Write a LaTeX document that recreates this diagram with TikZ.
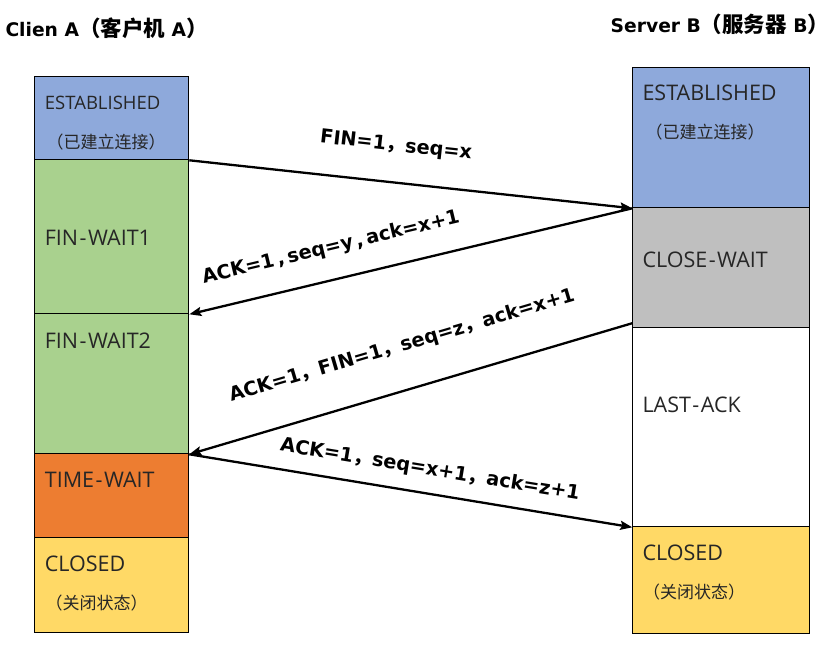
\documentclass[tikz,border=0pt]{standalone}
\usepackage{fontspec}
\setmainfont{Open Sans}
\newfontfamily\cjk{Noto Sans CJK SC}
\newfontfamily\wide{DejaVu Sans}
\usetikzlibrary{arrows.meta}
\definecolor{cblue}{HTML}{8EA9DB}
\definecolor{cgreen}{HTML}{A9D18E}
\definecolor{cgray}{HTML}{BFBFBF}
\definecolor{corange}{HTML}{ED7D31}
\definecolor{cyellow}{HTML}{FFD966}
\tikzset{
  box/.style={draw=black, line width=1pt, inner sep=0pt, anchor=north west},
  state/.style={anchor=west, inner sep=0pt, font=\fontsize{21.5}{23}\selectfont, text=black!85},
  smallstate/.style={anchor=west, inner sep=0pt, font=\fontsize{18.5}{20}\selectfont, text=black!85},
  note/.style={anchor=west, inner sep=0pt, font=\cjk\fontsize{17}{19}\selectfont, text=black!85},
  title/.style={anchor=west, inner sep=0pt, font=\wide\bfseries\fontsize{18.7}{21}\selectfont},
  msg/.style={inner sep=0pt, font=\wide\bfseries\fontsize{19.3}{21}\selectfont},
  arr/.style={line width=2.3pt, -{Stealth[length=12pt,width=9pt,inset=2pt]}},
}
\newcommand{\hy}{\kern1.5pt-\kern1.5pt}
\newcommand{\tc}[1]{{\cjk\fontsize{21.5}{24}\selectfont #1}}
\begin{document}
\begin{tikzpicture}[x=1pt,y=-1pt]
\useasboundingbox (0,0) rectangle (829,652);
% left column
\node[box, fill=cblue, minimum width=154pt, minimum height=83pt] (aest) at (34.3,76.3) {};
\node[box, fill=cgreen, minimum width=154pt, minimum height=154pt] (afw1) at (34.3,159.3) {};
\node[box, fill=cgreen, minimum width=154pt, minimum height=140pt] (afw2) at (34.3,313.3) {};
\node[box, fill=corange, minimum width=154pt, minimum height=84pt] (atw) at (34.3,453.3) {};
\node[box, fill=cyellow, minimum width=154pt, minimum height=95pt] (acl) at (34.3,537.3) {};
% right column
\node[box, fill=cblue, minimum width=177pt, minimum height=140.6pt] (best) at (632.3,66.7) {};
\node[box, fill=cgray, minimum width=177pt, minimum height=119.4pt] (bcw) at (632.3,207.3) {};
\node[box, fill=white, minimum width=177pt, minimum height=199.6pt] (blast) at (632.3,326.7) {};
\node[box, fill=cyellow, minimum width=177pt, minimum height=106.4pt] (bcl) at (632.3,526.3) {};
% titles
\node[title] (ta) at (5.3,28) {Clien A\tc{（客户机} A\tc{）}};
\node[title] (tb) at (610.5,24.3) {Server B\tc{（服务器} B\tc{）}};
% left labels
\node[smallstate] (laest) at (44.7,103) {ESTABLISHED};
\node[note] (laestn) at (46.3,142) {（已建立连接）};
\node[state] (lafw1) at (44.7,238) {FIN\hy WAIT1};
\node[state] (lafw2) at (44.7,340.7) {FIN\hy WAIT2};
\node[state] (latw) at (44.7,480) {TIME\hy WAIT};
\node[state] (lacl) at (44.7,564) {CLOSED};
\node[note] (lacln) at (45.3,602.7) {（关闭状态）};
% right labels
\node[state] (lbest) at (642.3,92.7) {ESTABLISHED};
\node[note] (lbestn) at (645.3,131.7) {（已建立连接）};
\node[state] (lbcw) at (642.3,260) {CLOSE\hy WAIT};
\node[state] (lblast) at (642.3,405) {LAST\hy ACK};
\node[state] (lbcl) at (642.3,553.3) {CLOSED};
\node[note] (lbcln) at (643,591.7) {（关闭状态）};
% arrows
\coordinate (b3) at ([yshift=4.5pt]bcw.south west);
\draw[arr] (aest.south east) -- (best.south west);
\draw[arr] (best.south west) -- (afw1.south east);
\draw[arr] (b3) -- (afw2.south east);
\draw[arr] (afw2.south east) -- (blast.south west);
% messages
\node[msg, rotate=-6.3] (m1) at (396,146) {FIN=1{\cjk ，}seq=x};
\node[msg, rotate=13.4] (m2) at (331,248) {ACK=1\,,\,seq=y\,,\,ack=x+1};
\node[msg, rotate=16.4] (m3) at (402,346) {ACK=1{\cjk ，}FIN=1{\cjk ，}seq=z{\cjk ，}ack=x+1};
\node[msg, rotate=-9.3] (m4) at (430,470) {ACK=1{\cjk ，}seq=x+1{\cjk ，}ack=z+1};
\end{tikzpicture}
\end{document}
